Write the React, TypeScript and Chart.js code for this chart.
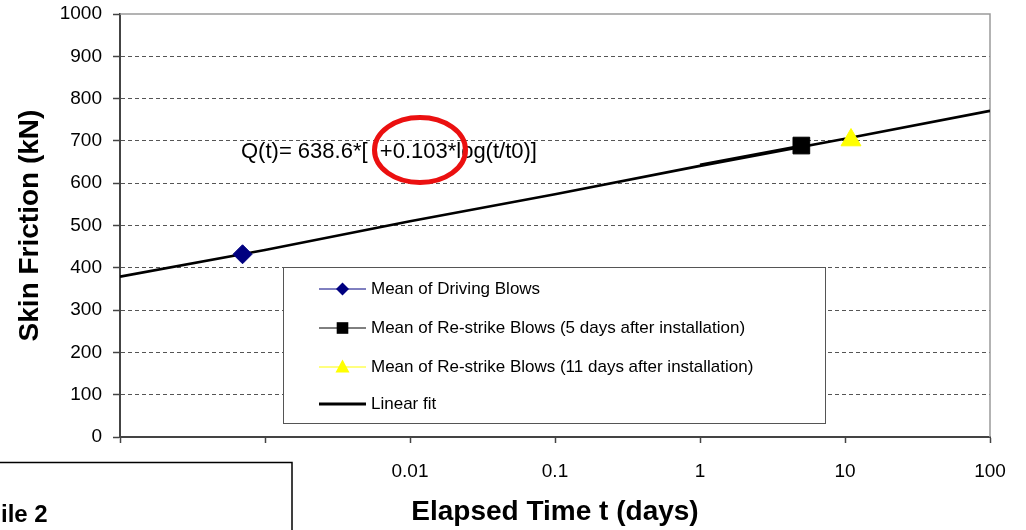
import React, { useEffect, useRef } from "react";
import { Chart, registerables } from "chart.js";

Chart.register(...registerables);

const FONT = "'Liberation Sans', Arial, Helvetica, sans-serif";

// ---- data ----
const xTicks = [0.0001, 0.001, 0.01, 0.1, 1, 10, 100];
const yMin = 0;
const yMax = 1000;
const yStep = 100;

const drivingT = [0.0007];
const drivingQ = [432];

const restrike5T = [5];
const restrike5Q = [689];

const restrike11T = [11];
const restrike11Q = [702];

const fitT = [0.0001, 0.001, 0.01, 0.1, 1, 10, 100];
const fitQ = [379, 442, 510, 574, 641, 705, 771];

const overlapT = [1, 5];
const overlapQ = [644, 689];

const legendLabels = [
  "Mean of Driving Blows",
  "Mean of Re-strike Blows (5 days after installation)",
  "Mean of Re-strike Blows (11 days after installation)",
  "Linear fit",
];

const xTitle = "Elapsed Time t (days)";
const yTitle = "Skin Friction (kN)";
const formulaLeft = "Q(t)= 638.6*[";
const formulaHidden = "1";
const formulaRight = "+0.103*log(t/t0)]";
const cornerText = "ile 2";

const pts = (xs: number[], ys: number[]) => xs.map((x, i) => ({ x, y: ys[i] }));

const overlayPlugin = {
  id: "overlay",
  beforeDatasetsDraw(chart: any) {
    const { ctx, chartArea } = chart;
    const { left, top, right, bottom } = chartArea;
    ctx.save();
    ctx.strokeStyle = "#9a9a9a";
    ctx.lineWidth = 1.5;
    ctx.beginPath();
    ctx.moveTo(left, top);
    ctx.lineTo(right, top);
    ctx.lineTo(right, bottom);
    ctx.stroke();
    ctx.restore();
  },
  afterDraw(chart: any) {
    const { ctx } = chart;
    ctx.save();

    // legend box
    const lx = 283, ly = 267, lw = 542, lh = 156;
    ctx.fillStyle = "#fff";
    ctx.fillRect(lx, ly, lw, lh);
    ctx.strokeStyle = "#555";
    ctx.lineWidth = 1;
    ctx.strokeRect(lx + 0.5, ly + 0.5, lw, lh);

    const rows = [289, 328, 367, 404];
    const x0 = 319, x1 = 366, mx = 342.5, tx = 371;
    ctx.font = `17px ${FONT}`;
    ctx.textBaseline = "middle";
    ctx.textAlign = "left";
    rows.forEach((ry, i) => {
      ctx.beginPath();
      if (i === 0) { ctx.strokeStyle = "#000080"; ctx.lineWidth = 1; }
      else if (i === 1) { ctx.strokeStyle = "#000"; ctx.lineWidth = 1; }
      else if (i === 2) { ctx.strokeStyle = "#ffff00"; ctx.lineWidth = 1; }
      else { ctx.strokeStyle = "#000"; ctx.lineWidth = 3; }
      ctx.moveTo(x0, ry);
      ctx.lineTo(x1, ry);
      ctx.stroke();
      ctx.beginPath();
      if (i === 0) {
        ctx.fillStyle = "#000080";
        ctx.moveTo(mx, ry - 6.5);
        ctx.lineTo(mx + 6.5, ry);
        ctx.lineTo(mx, ry + 6.5);
        ctx.lineTo(mx - 6.5, ry);
        ctx.closePath();
        ctx.fill();
      } else if (i === 1) {
        ctx.fillStyle = "#000";
        ctx.fillRect(mx - 5.8, ry - 5.8, 11.6, 11.6);
      } else if (i === 2) {
        ctx.fillStyle = "#ffff00";
        ctx.moveTo(mx, ry - 7.5);
        ctx.lineTo(mx + 7, ry + 5.5);
        ctx.lineTo(mx - 7, ry + 5.5);
        ctx.closePath();
        ctx.fill();
      }
      ctx.fillStyle = "#000";
      ctx.fillText(legendLabels[i], tx, ry);
    });

    // formula
    ctx.font = `22px ${FONT}`;
    ctx.fillStyle = "#000";
    ctx.textBaseline = "middle";
    const fx = 241, fy = 152;
    ctx.fillText(formulaLeft, fx, fy);
    const w1 = ctx.measureText(formulaLeft).width;
    const w2 = ctx.measureText(formulaHidden).width;
    ctx.fillText(formulaRight, fx + w1 + w2, fy);

    // red ellipse
    ctx.beginPath();
    ctx.strokeStyle = "rgb(235,16,16)";
    ctx.lineWidth = 5;
    ctx.ellipse(420, 150, 45.5, 32.5, 0, 0, Math.PI * 2);
    ctx.stroke();

    // bottom-left cropped box
    ctx.fillStyle = "#fff";
    ctx.fillRect(-5, 462, 297, 80);
    ctx.strokeStyle = "#000";
    ctx.lineWidth = 1.5;
    ctx.strokeRect(-5, 462.5, 297, 80);
    ctx.fillStyle = "#000";
    ctx.font = `bold 24px ${FONT}`;
    ctx.textBaseline = "alphabetic";
    ctx.fillText(cornerText, 1, 522);

    ctx.restore();
  },
};

export default function App() {
  const ref = useRef<HTMLCanvasElement | null>(null);

  useEffect(() => {
    if (!ref.current) return;
    const chart = new Chart(ref.current, {
      type: "line",
      data: {
        datasets: [
          {
            label: legendLabels[0],
            data: pts(drivingT, drivingQ),
            showLine: false,
            pointStyle: "rectRot",
            pointRadius: 9.5,
            backgroundColor: "#000080",
            borderColor: "#000080",
            borderWidth: 1,
          },
          {
            label: legendLabels[1],
            data: pts(restrike5T, restrike5Q),
            showLine: false,
            pointStyle: "rect",
            pointRadius: 11.8,
            backgroundColor: "#000",
            borderColor: "#000",
            borderWidth: 1,
          },
          {
            label: legendLabels[2],
            data: pts(restrike11T, restrike11Q),
            showLine: false,
            pointStyle: "triangle",
            pointRadius: 11.5,
            backgroundColor: "#ffff00",
            borderColor: "#ffff00",
            borderWidth: 1,
          },
          {
            label: "overlap",
            data: pts(overlapT, overlapQ),
            borderColor: "#000",
            borderWidth: 2,
            pointRadius: 0,
            tension: 0,
          },
          {
            label: legendLabels[3],
            data: pts(fitT, fitQ),
            borderColor: "#000",
            borderWidth: 2.6,
            pointRadius: 0,
            tension: 0,
          },
        ],
      },
      options: {
        animation: false,
        responsive: false,
        devicePixelRatio: 1,
        layout: { padding: { left: 0, right: 36, top: 14, bottom: 0 } },
        plugins: {
          legend: { display: false },
          tooltip: { enabled: false },
        },
        scales: {
          x: {
            type: "logarithmic",
            min: xTicks[0],
            max: xTicks[xTicks.length - 1],
            afterBuildTicks: (scale: any) => {
              scale.ticks = xTicks.map((v) => ({ value: v, major: true }));
            },
            afterFit: (scale: any) => {
              scale.height = 93;
              scale.paddingLeft = 0;
              scale.paddingRight = 0;
            },
            ticks: {
              autoSkip: false,
              maxRotation: 0,
              padding: 17,
              color: "#000",
              font: { family: FONT, size: 19 },
              callback: (v: any) => String(Number(v)),
            },
            grid: {
              drawOnChartArea: false,
              drawTicks: true,
              tickLength: 6,
              tickColor: "#444",
              tickWidth: 1.5,
            },
            border: { display: true, color: "#444", width: 2 },
            title: {
              display: true,
              text: xTitle,
              color: "#000",
              font: { family: FONT, size: 28, weight: "bold" },
              padding: { top: 0, bottom: 1 },
            },
          },
          y: {
            type: "linear",
            min: yMin,
            max: yMax,
            afterFit: (scale: any) => {
              scale.width = 120;
              scale.paddingTop = 0;
              scale.paddingBottom = 0;
            },
            ticks: {
              stepSize: yStep,
              padding: 11,
              color: "#000",
              font: { family: FONT, size: 19 },
              callback: (v: any) => String(v),
            },
            grid: {
              color: (c: any) =>
                c.tick && (c.tick.value === yMin || c.tick.value === yMax) ? "rgba(0,0,0,0)" : "#555",
              lineWidth: 1,
              tickLength: 7,
              tickColor: "#444",
              tickWidth: 1.5,
            },
            border: { display: true, color: "#444", width: 2, dash: [4, 3] },
            title: {
              display: true,
              text: yTitle,
              color: "#000",
              font: { family: FONT, size: 28, weight: "bold" },
              padding: { top: 13, bottom: 0 },
            },
          },
        },
      } as any,
      plugins: [overlayPlugin],
    });
    return () => chart.destroy();
  }, []);

  return (
    <div style={{ position: "absolute", left: 0, top: 0, width: 1026, height: 530, background: "#fff" }}>
      <canvas ref={ref} width={1026} height={530} style={{ display: "block" }} />
    </div>
  );
}
